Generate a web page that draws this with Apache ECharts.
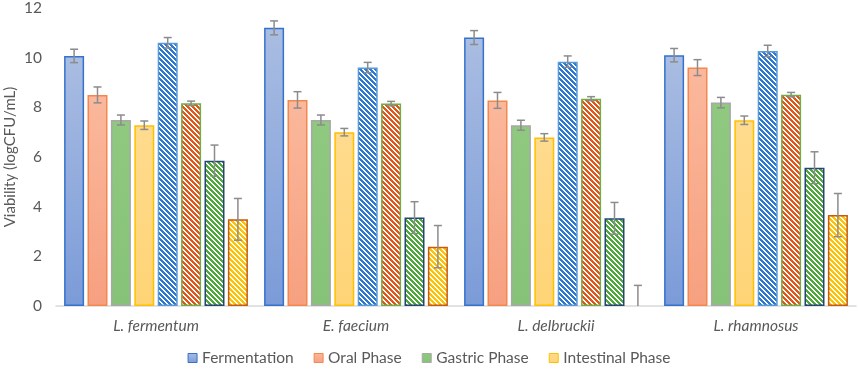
<!DOCTYPE html>
<html>
<head>
<meta charset="utf-8">
<script src="https://cdn.jsdelivr.net/npm/echarts@6/dist/echarts.min.js"></script>
<style>
html,body{margin:0;padding:0;background:#fff;}
#chart{width:858px;height:377px;}
</style>
</head>
<body>
<div id="chart"></div>
<script>
// ---- data ----
const categories = ['L. fermentum', 'E. faecium', 'L. delbruckii', 'L. rhamnosus'];
const seriesNames = ['Fermentation', 'Oral Phase', 'Gastric Phase', 'Intestinal Phase',
                     'Fermentation (B)', 'Oral Phase (B)', 'Gastric Phase (B)', 'Intestinal Phase (B)'];
const fermentation      = [10.07, 11.20, 10.81, 10.10];
const oralPhase         = [8.50, 8.30, 8.28, 9.60];
const gastricPhase      = [7.49, 7.49, 7.28, 8.19];
const intestinalPhase   = [7.28, 7.00, 6.79, 7.48];
const fermentationB     = [10.60, 9.60, 9.84, 10.27];
const oralPhaseB        = [8.16, 8.15, 8.35, 8.51];
const gastricPhaseB     = [5.85, 3.56, 3.53, 5.57];
const intestinalPhaseB  = [3.49, 2.39, 0, 3.66];
const fermentationErr    = [0.27, 0.28, 0.28, 0.27];
const oralPhaseErr       = [0.32, 0.33, 0.32, 0.32];
const gastricPhaseErr    = [0.20, 0.20, 0.20, 0.21];
const intestinalPhaseErr = [0.17, 0.15, 0.15, 0.17];
const fermentationBErr   = [0.21, 0.21, 0.23, 0.23];
const oralPhaseBErr      = [0.09, 0.09, 0.08, 0.09];
const gastricPhaseBErr   = [0.63, 0.64, 0.64, 0.64];
const intestinalPhaseBErr= [0.84, 0.85, 0.83, 0.87];
const yTicks = [0, 2, 4, 6, 8, 10, 12];

const values = [fermentation, oralPhase, gastricPhase, intestinalPhase,
                fermentationB, oralPhaseB, gastricPhaseB, intestinalPhaseB];
const errors = [fermentationErr, oralPhaseErr, gastricPhaseErr, intestinalPhaseErr,
                fermentationBErr, oralPhaseBErr, gastricPhaseBErr, intestinalPhaseBErr];

// ---- styles ----
function grad(top, bottom) {
  return new echarts.graphic.LinearGradient(0, 0, 0, 1, [
    {offset: 0, color: top}, {offset: 1, color: bottom}]);
}
function hatch(color) {
  const c = document.createElement('canvas');
  const P = 5;
  c.width = P; c.height = P;
  const ctx = c.getContext('2d');
  ctx.fillStyle = '#ffffff';
  ctx.fillRect(0, 0, P, P);
  ctx.fillStyle = color;
  for (let y = 0; y < P; y++) {
    for (let x = 0; x < P; x++) {
      if (((x - y) % P + P) % P < 3) ctx.fillRect(x, y, 1, 1);
    }
  }
  return {image: c, repeat: 'repeat'};
}
const fills = [
  grad('#aabde2', '#7b9bd8'),
  grad('#fbb89c', '#f6a080'),
  grad('#8ec97f', '#86c277'),
  grad('#ffdb8e', '#ffd476'),
  hatch('#2e78d2'),
  hatch('#e3561a'),
  hatch('#4ea73a'),
  hatch('#ffc000')
];
const borders = ['#3472cc', '#f4874d', '#a8a8a8', '#ffc000',
                 '#5b9bd5', '#70ad47', '#264478', '#c55a11'];

const BAR_W = 20, BAR_GAP = 0.17;
const STEP = BAR_W * (1 + BAR_GAP);
const FONT = 'Lato, "Open Sans", sans-serif';

const series = [];
values.forEach((vals, i) => {
  series.push({
    name: seriesNames[i],
    type: 'bar',
    data: vals.map(v => v === 0 ? {value: 0, itemStyle: {borderWidth: 0, opacity: 0}} : v),
    barWidth: BAR_W,
    barGap: (BAR_GAP * 100) + '%',
    itemStyle: {color: fills[i], borderColor: borders[i], borderWidth: 1.5},
    emphasis: {disabled: true},
    z: 2
  });
});
values.forEach((vals, i) => {
  series.push({
    type: 'custom',
    name: 'err' + i,
    z: 5,
    data: vals.map((v, k) => [k, v, errors[i][k]]),
    renderItem: function (params, api) {
      const k = api.value(0), v = api.value(1), e = api.value(2);
      const lo = Math.max(0, v - e), hi = v + e;
      const pHi = api.coord([k, hi]);
      const pLo = api.coord([k, lo]);
      const x = pHi[0] + (i - 3.5) * STEP;
      const cap = 4;
      const st = {stroke: '#8c8c8c', lineWidth: 1.5};
      const children = [
        {type: 'line', shape: {x1: x, y1: pHi[1], x2: x, y2: pLo[1]}, style: st},
        {type: 'line', shape: {x1: x - cap, y1: pHi[1], x2: x + cap, y2: pHi[1]}, style: st}
      ];
      if (v - e > 0) {
        children.push({type: 'line', shape: {x1: x - cap, y1: pLo[1], x2: x + cap, y2: pLo[1]}, style: st});
      }
      return {type: 'group', children: children};
    }
  });
});

const chart = echarts.init(document.getElementById('chart'), null, {renderer: 'canvas'});
chart.setOption({
  animation: false,
  backgroundColor: '#ffffff',
  textStyle: {fontFamily: FONT},
  grid: {left: 56, right: 2, top: 8, bottom: 71, containLabel: false, outerBoundsMode: 'none'},
  legend: {
    data: seriesNames.slice(0, 4),
    top: 345,
    left: 'center',
    itemWidth: 9,
    itemHeight: 9,
    itemGap: 20,
    icon: 'rect',
    textStyle: {color: '#595959', fontSize: 15.5, fontFamily: FONT},
    itemStyle: {borderWidth: 1}
  },
  xAxis: {
    type: 'category',
    data: categories,
    axisLine: {lineStyle: {color: '#d9d9d9', width: 1.5}},
    axisTick: {show: false},
    axisLabel: {color: '#595959', fontSize: 15.5, fontStyle: 'italic', margin: 12, fontFamily: FONT}
  },
  yAxis: {
    type: 'value',
    min: yTicks[0],
    max: yTicks[yTicks.length - 1],
    interval: 2,
    name: 'Viability (logCFU/mL)',
    nameLocation: 'middle',
    nameGap: 38,
    nameMoveOverlap: false,
    nameTextStyle: {color: '#595959', fontSize: 15, fontFamily: FONT},
    axisLine: {show: false},
    axisTick: {show: false},
    splitLine: {show: false},
    axisLabel: {color: '#595959', fontSize: 15.5, margin: 14, fontFamily: FONT}
  },
  series: series
});
</script>
</body>
</html>
